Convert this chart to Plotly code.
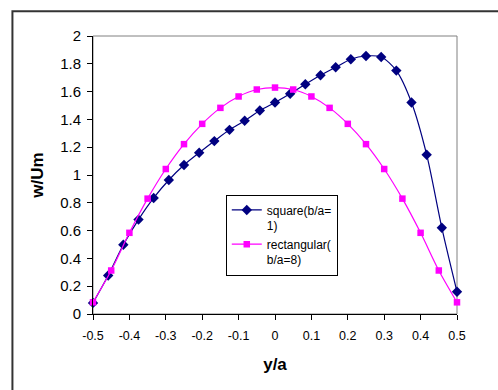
import plotly.graph_objects as go

# ---- data ----
square_x = [-0.5 + k / 24 for k in range(25)]
square_y = [0.08, 0.277, 0.498, 0.679, 0.835, 0.964, 1.072, 1.160, 1.244, 1.325,
            1.390, 1.464, 1.522, 1.584, 1.653, 1.718, 1.775, 1.833, 1.856, 1.849,
            1.751, 1.522, 1.146, 0.620, 0.160]

rect_x = [-0.5, -0.45, -0.4, -0.35, -0.3, -0.25, -0.2, -0.15, -0.1, -0.05, 0.0,
          0.05, 0.1, 0.15, 0.2, 0.25, 0.3, 0.35, 0.4, 0.45, 0.5]
rect_y = [0.084, 0.313, 0.584, 0.830, 1.043, 1.222, 1.368, 1.483, 1.565, 1.615, 1.629,
          1.615, 1.565, 1.483, 1.368, 1.222, 1.043, 0.830, 0.584, 0.313, 0.084]

x_tickvals = [-0.5, -0.4, -0.3, -0.2, -0.1, 0, 0.1, 0.2, 0.3, 0.4, 0.5]
x_ticktext = ["-0.5", "-0.4", "-0.3", "-0.2", "-0.1", "0", "0.1", "0.2", "0.3", "0.4", "0.5"]
y_tickvals = [0, 0.2, 0.4, 0.6, 0.8, 1, 1.2, 1.4, 1.6, 1.8, 2]
y_ticktext = ["0", "0.2", "0.4", "0.6", "0.8", "1", "1.2", "1.4", "1.6", "1.8", "2"]

FONT = "Liberation Sans, Arial, sans-serif"

fig = go.Figure()
fig.add_trace(go.Scatter(
    x=square_x, y=square_y, name="square(b/a=<br>1)",
    mode="lines+markers", line=dict(color="#000080", width=1.2, shape="spline", smoothing=0.8),
    marker=dict(symbol="diamond", size=8, color="#000080"), cliponaxis=False))
fig.add_trace(go.Scatter(
    x=rect_x, y=rect_y, name="rectangular(<br>b/a=8)",
    mode="lines+markers", line=dict(color="#FF00FF", width=1.2, shape="spline", smoothing=0.8),
    marker=dict(symbol="square", size=6.5, color="#FF00FF"), cliponaxis=False))

L, R, T, B = 92.7, 457.3, 35.7, 314.3
W, H = 498, 390
pw, ph = R - L, B - T

fig.update_layout(
    width=W, height=H,
    margin=dict(l=L, r=W - R, t=T, b=H - B, pad=0),
    paper_bgcolor="white", plot_bgcolor="white",
    font=dict(family=FONT, color="black"),
    showlegend=True,
    legend=dict(
        x=(225.7 - L) / pw, y=(B - 194.7) / ph, xanchor="left", yanchor="top",
        bordercolor="black", borderwidth=1, bgcolor="white",
        font=dict(size=12, family=FONT), valign="top", tracegroupgap=0,
        itemwidth=30,
    ),
    xaxis=dict(
        range=[-0.5, 0.5], tickvals=x_tickvals, ticktext=x_ticktext,
        showgrid=False, zeroline=False, showline=True, linecolor="black", linewidth=1,
        ticks="outside", ticklen=5, tickcolor="black", ticklabelstandoff=5,
        tickfont=dict(size=12.5, family=FONT),
        title=dict(text="<b>y/a</b>", font=dict(size=17, family=FONT), standoff=16),
    ),
    yaxis=dict(
        range=[0, 2], tickvals=y_tickvals, ticktext=y_ticktext,
        showgrid=False, zeroline=False, showline=True, linecolor="black", linewidth=1,
        ticks="outside", ticklen=5, tickcolor="black", ticklabelstandoff=3,
        tickfont=dict(size=15, family=FONT),
        title=dict(text="<b>w/Um</b>", font=dict(size=17, family=FONT), standoff=12),
    ),
    shapes=[
        dict(type="rect", xref="paper", yref="paper", x0=0, y0=0, x1=1, y1=1,
             line=dict(color="#808080", width=1), layer="below"),
        dict(type="rect", xref="paper", yref="paper",
             x0=(12 - L) / pw, y0=(B - 11) / ph, x1=(W + 20 - L) / pw, y1=(B - H - 20) / ph,
             line=dict(color="#333333", width=2), layer="below"),
    ],
)

fig.write_html("out.html")
